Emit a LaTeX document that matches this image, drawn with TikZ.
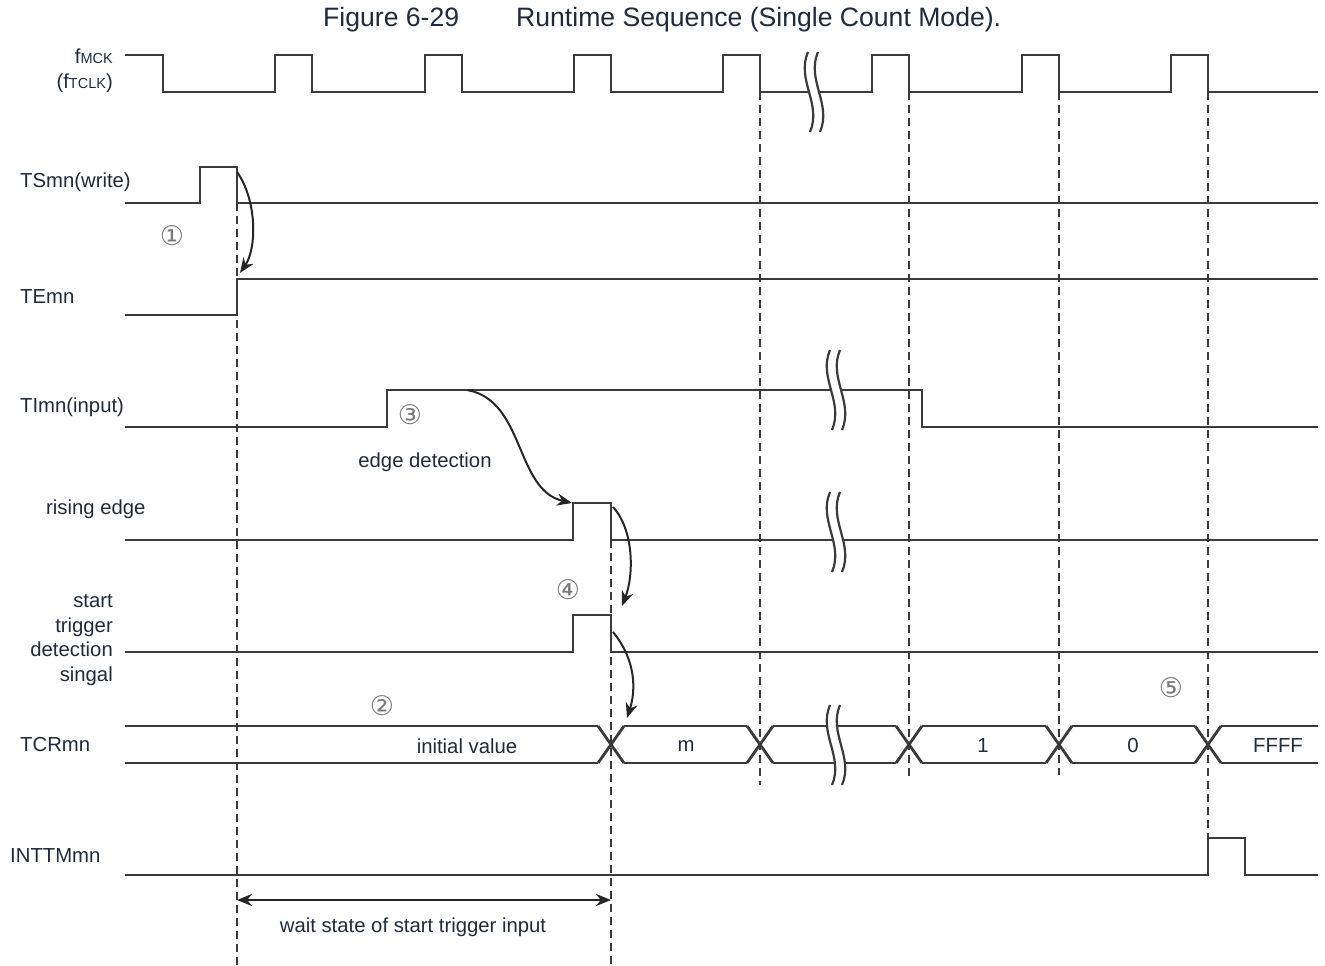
\documentclass[tikz,border=0pt]{standalone}
\usepackage{fontspec}
\setmainfont{Liberation Sans}
\newfontfamily\circfont{DejaVu Sans}
\usetikzlibrary{calc,arrows.meta}
\definecolor{wavecol}{HTML}{3A3A3A}
\definecolor{txtcol}{HTML}{1F2B3A}
\definecolor{numcol}{HTML}{7A7A7A}
\tikzset{
  sig/.style={draw=wavecol,line width=2.8pt},
  guide/.style={draw=wavecol,line width=2.6pt,dash pattern=on 8pt off 5pt},
  arr/.style={draw=black!85,line width=2pt,-{Stealth[length=15pt,width=12pt]}},
  lbl/.style={text=txtcol,font=\fontsize{20.3}{24.5}\selectfont,inner sep=0pt},
  num/.style={text=numcol,font=\circfont\fontsize{27}{27}\selectfont,inner sep=0pt},
  brk/.pic={
    \path[fill=white] (0,-40) .. controls (-12,-12) and (14,12) .. (2,40) -- (12,40) .. controls (24,12) and (-2,-12) .. (10,-40) -- cycle;
    \draw[wavecol,line width=2.2pt] (0,-40) .. controls (-12,-12) and (14,12) .. (2,40);
    \draw[wavecol,line width=2.2pt] (10,-40) .. controls (-2,-12) and (24,12) .. (12,40);
  }
}
\begin{document}
\begin{tikzpicture}[x=1pt,y=-1pt]
\useasboundingbox (0,0) rectangle (1325,966);
% title
\node[lbl,anchor=west,font=\fontsize{26.6}{30}\selectfont] (fig) at (323,20) {Figure 6-29};
\node[lbl,anchor=west,font=\fontsize{26.6}{30}\selectfont] (title) at (516,20) {Runtime Sequence (Single Count Mode).};
% signal names
\node[lbl,anchor=east] (clk) at (113,56) {f{\fontsize{14.5}{14}\selectfont MCK}};
\node[lbl,anchor=east] (tclk) at (113,83) {(f{\fontsize{14.5}{14}\selectfont TCLK})};
\node[lbl,anchor=west] (ts) at (20,182) {TSmn(write)};
\node[lbl,anchor=west] (te) at (20,297) {TEmn};
\node[lbl,anchor=west] (ti) at (20,407) {TImn(input)};
\node[lbl,anchor=west] (re) at (46,509) {rising edge};
\node[lbl,anchor=east,align=right] (st) at (113,640) {start\\trigger\\detection\\singal};
\node[lbl,anchor=west] (tcr) at (20,745) {TCRmn};
\node[lbl,anchor=west] (intt) at (10,856) {INTTMmn};
% waveforms
\draw[sig] (125,55) -- (163,55) -- (163,92)
  \foreach \f in {312,462,611,760,909,1059,1208} { -- (\f-37,92) -- (\f-37,55) -- (\f,55) -- (\f,92) } -- (1318,92);
\draw[sig] (125,203) -- (200,203) -- (200,167) -- (237,167) -- (237,203) -- (1318,203);
\draw[sig] (125,315) -- (237,315) -- (237,279) -- (1318,279);
\draw[sig] (125,427) -- (387,427) -- (387,390) -- (922,390) -- (922,427) -- (1318,427);
\draw[sig] (125,540) -- (573,540) -- (573,503) -- (611,503) -- (611,540) -- (1318,540);
\draw[sig] (125,652) -- (573,652) -- (573,615) -- (611,615) -- (611,652) -- (1318,652);
\draw[sig] (125,875) -- (1208,875) -- (1208,838) -- (1245,838) -- (1245,875) -- (1318,875);
% TCRmn bus
\draw[sig] (125,726) -- (598,726) (125,763) -- (598,763) (1221,726) -- (1318,726) (1221,763) -- (1318,763);
\foreach \a/\b in {611/760,760/909,909/1059,1059/1208}
  \draw[sig] (\a+13,726) -- (\b-13,726) (\a+13,763) -- (\b-13,763);
\foreach \c in {611,760,909,1059,1208}
  \draw[sig] (\c-13,726) -- (\c+13,763) (\c-13,763) -- (\c+13,726);
% guide lines
\draw[guide] (237,203) -- (237,966);
\draw[guide] (611,540) -- (611,966);
\draw[guide] (760,92) -- (760,785);
\draw[guide] (909,92) -- (909,780);
\draw[guide] (1059,92) -- (1059,775);
\draw[guide] (1208,92) -- (1208,838);
% breaks
\pic at (808,92) {brk}; \pic at (830,390) {brk};
\pic at (830,532) {brk}; \pic at (830,745) {brk};
% bus values
\node[lbl] (init) at (467,746) {initial value};
\node[lbl] (valm) at (686,746) {m};
\node[lbl] (val1) at (983,746) {1};
\node[lbl] (val0) at (1133,746) {0};
\node[lbl] (valf) at (1278,746) {FFFF};
% numbered steps
\node[num] (n1) at (172,236) {①}; \node[num] (n2) at (382,706) {②};
\node[num] (n3) at (410,415) {③}; \node[num] (n4) at (568,590) {④};
\node[num] (n5) at (1171,688) {⑤};
% causal arrows
\coordinate (tsfall) at (237,172); \coordinate (terise) at (240,273);
\coordinate (tihigh) at (467,390); \coordinate (retop) at (572,503);
\coordinate (refall) at (613,507); \coordinate (stin) at (622,606);
\coordinate (stfall) at (613,632); \coordinate (tcrin) at (627,718);
\draw[arr] (tsfall) .. controls (257,200) and (257,248) .. (terise);
\draw[arr] (tihigh) .. controls (525,400) and (515,490) .. (retop);
\draw[arr] (refall) .. controls (634,530) and (634,575) .. (stin);
\draw[arr] (stfall) .. controls (636,660) and (636,690) .. (tcrin);
\node[lbl] (edge) at (425,462) {edge detection};
% wait state
\coordinate (wl) at (237,900); \coordinate (wr) at (611,900);
\draw[arr,{Stealth[length=15pt,width=12pt]}-{Stealth[length=15pt,width=12pt]}] (wl) -- (wr);
\node[lbl] (wait) at (413,927) {wait state of start trigger input};
\end{tikzpicture}
\end{document}
